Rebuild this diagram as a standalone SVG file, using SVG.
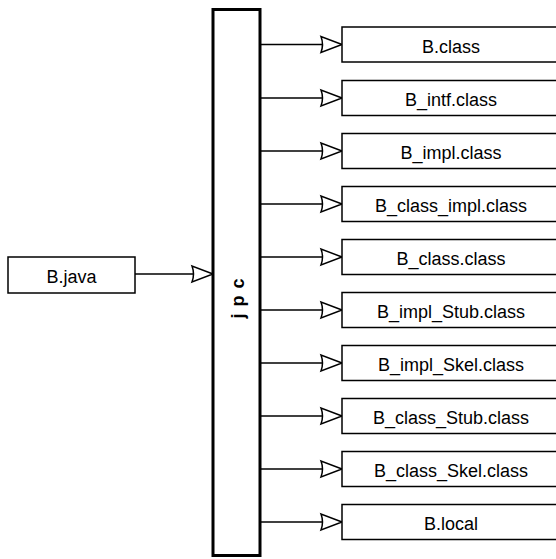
<svg xmlns="http://www.w3.org/2000/svg" width="556" height="559" viewBox="0 0 556 559">
<style>
.box{fill:#fff;stroke:#000;stroke-width:1.5}
.t{font-family:"Liberation Sans",Arial,sans-serif;font-size:18px;text-anchor:middle;fill:#000}
.ln{stroke:#000;stroke-width:1.5;fill:none}
.hd{fill:#fff;stroke:#000;stroke-width:1.5;stroke-linejoin:miter}
</style>
<defs>
<path id="ah" class="hd" d="M0,0 L-21,-8 Q-18,0 -21,8 Z"/>
</defs>
<rect width="556" height="559" fill="#fff"/>
<g id="connectors">
<line class="ln" x1="135" y1="274" x2="193" y2="274"/><use href="#ah" x="213" y="274"/>
<line class="ln" x1="261" y1="44.5" x2="322" y2="44.5"/><use href="#ah" x="342" y="44.5"/>
<line class="ln" x1="261" y1="98" x2="322" y2="98"/><use href="#ah" x="342" y="98"/>
<line class="ln" x1="261" y1="151" x2="322" y2="151"/><use href="#ah" x="342" y="151"/>
<line class="ln" x1="261" y1="204" x2="322" y2="204"/><use href="#ah" x="342" y="204"/>
<line class="ln" x1="261" y1="257" x2="322" y2="257"/><use href="#ah" x="342" y="257"/>
<line class="ln" x1="261" y1="310" x2="322" y2="310"/><use href="#ah" x="342" y="310"/>
<line class="ln" x1="261" y1="363" x2="322" y2="363"/><use href="#ah" x="342" y="363"/>
<line class="ln" x1="261" y1="416" x2="322" y2="416"/><use href="#ah" x="342" y="416"/>
<line class="ln" x1="261" y1="469" x2="322" y2="469"/><use href="#ah" x="342" y="469"/>
<line class="ln" x1="261" y1="522" x2="322" y2="522"/><use href="#ah" x="342" y="522"/>
</g>
<g id="jpc">
<rect x="213" y="9.5" width="47" height="546" fill="#fff" stroke="#000" stroke-width="3"/>
<text transform="translate(244,295) rotate(-90)" font-family="'Liberation Sans',Arial,sans-serif" font-size="18" font-weight="bold" text-anchor="middle" letter-spacing="7">jpc</text>
</g>
<g id="bjava"><rect class="box" x="8" y="257" width="127" height="36"/><text class="t" x="71.5" y="282.5">B.java</text></g>
<g id="n1"><rect class="box" x="342" y="27" width="220" height="35"/><text class="t" x="451" y="52.5">B.class</text></g>
<g id="n2"><rect class="box" x="342" y="80.5" width="220" height="35"/><text class="t" x="451" y="106">B_intf.class</text></g>
<g id="n3"><rect class="box" x="342" y="133.5" width="220" height="35"/><text class="t" x="451" y="159">B_impl.class</text></g>
<g id="n4"><rect class="box" x="342" y="186.5" width="220" height="35"/><text class="t" x="451" y="212">B_class_impl.class</text></g>
<g id="n5"><rect class="box" x="342" y="239.5" width="220" height="35"/><text class="t" x="451" y="265">B_class.class</text></g>
<g id="n6"><rect class="box" x="342" y="292.5" width="220" height="35"/><text class="t" x="451" y="318">B_impl_Stub.class</text></g>
<g id="n7"><rect class="box" x="342" y="345.5" width="220" height="35"/><text class="t" x="451" y="371">B_impl_Skel.class</text></g>
<g id="n8"><rect class="box" x="342" y="398.5" width="220" height="35"/><text class="t" x="451" y="424">B_class_Stub.class</text></g>
<g id="n9"><rect class="box" x="342" y="451.5" width="220" height="35"/><text class="t" x="451" y="477">B_class_Skel.class</text></g>
<g id="n10"><rect class="box" x="342" y="504.5" width="220" height="35"/><text class="t" x="451" y="530">B.local</text></g>
</svg>
